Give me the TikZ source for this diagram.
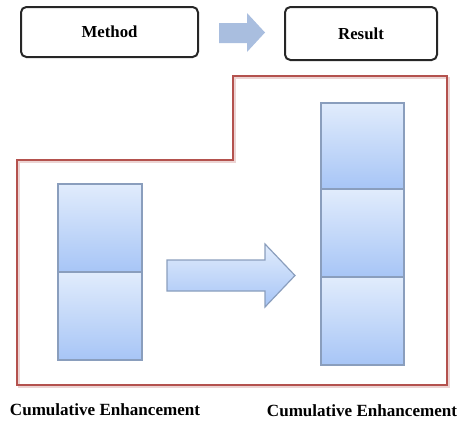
\documentclass[tikz,border=0pt]{standalone}
\usepackage{fontspec}
\setmainfont{Liberation Serif}
\begin{document}
\begin{tikzpicture}[x=0.75pt,y=-0.75pt,
  titlebox/.style={draw=black!85,line width=1.5pt,rounded corners=4pt,inner sep=0pt,
    font=\fontsize{12.6}{14}\selectfont\bfseries},
  blockcell/.style={draw=cellborder,line width=0.9pt,top color=celltop,bottom color=cellbottom,
    minimum width=84*0.75pt,inner sep=0pt},
  blockarrow/.style={draw=cellborder,line width=0.9pt,top color=celltop,bottom color=cellbottom},
  caption/.style={font=\fontsize{12.8}{14}\selectfont\bfseries,inner sep=0pt},
  frameline/.style={draw=framered,line width=2.2pt},
  frameshadow/.style={draw=framered!25,line width=2.2pt}]
\definecolor{celltop}{HTML}{E1ECFC}
\definecolor{cellbottom}{HTML}{A7C5F6}
\definecolor{cellborder}{HTML}{8A9EBD}
\definecolor{arrowfill}{HTML}{A9BEDF}
\definecolor{framered}{HTML}{B4524E}
\useasboundingbox (0,0) rectangle (465,421);

% header: method -> result
\node[titlebox,minimum width=177*0.75pt,minimum height=50*0.75pt] (method) at (109.5,32) {Method};
\node[titlebox,minimum width=152*0.75pt,minimum height=53*0.75pt] (result) at (361,33.5) {Result};
\fill[arrowfill] (219,23) -- (247,23) -- (247,13) -- (265,32.5) -- (247,52) -- (247,43) -- (219,43) -- cycle;

% stepped frame around the comparison, with a faint drop shadow
\draw[frameshadow] (235,78) -- (449,78) -- (449,387) -- (19,387) -- (19,162) -- (235,162) -- cycle;
\draw[frameline] (233,76) -- (447,76) -- (447,385) -- (17,385) -- (17,160) -- (233,160) -- cycle;

% two stacked blocks on the left
\node[blockcell,minimum height=88*0.75pt] (l1) at (100,228) {};
\node[blockcell,minimum height=88*0.75pt] (l2) at (100,316) {};

% three stacked blocks on the right
\node[blockcell,minimum height=86*0.75pt,minimum width=83*0.75pt] (r1) at (362.5,146) {};
\node[blockcell,minimum height=88*0.75pt,minimum width=83*0.75pt] (r2) at (362.5,233) {};
\node[blockcell,minimum height=88*0.75pt,minimum width=83*0.75pt] (r3) at (362.5,321) {};

% block arrow between the stacks
\draw[blockarrow] (167,260) -- (265,260) -- (265,244) -- (295,275.5) -- (265,307) -- (265,291) -- (167,291) -- cycle;

% captions
\node[caption] (capl) at (105,410) {Cumulative Enhancement};
\node[caption] (capr) at (362,411) {Cumulative Enhancement};
\end{tikzpicture}
\end{document}
